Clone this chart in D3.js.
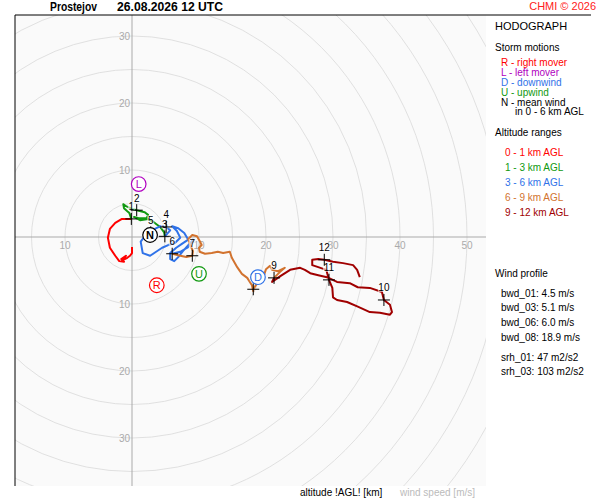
<!DOCTYPE html>
<html>
<head>
<meta charset="utf-8">
<script src="https://cdn.jsdelivr.net/npm/d3@7"></script>
<style>
body{margin:0;background:#fff;}
text{font-family:"Liberation Sans",Arial,sans-serif;}
</style>
</head>
<body>
<script>
// wind speed rings and tick labels [m/s]
var rings = [5,10,15,20,25,30,35,40,45,50,55,60,65];
var uTicks = [-10,10,20,30,40,50];
var vTicks = [30,20,10,-10,-20,-30];

// hodograph per altitude layer, [u, v] in m/s
var layer0_1 = [[0,-1.5],[0,-2.4],[-0.3,-2.8],[-0.7,-3.1],[-1.3,-3.4],[-0.9,-2.8],[-1.6,-3.3],[-1.2,-3.7],[-1.9,-3.6],
    [-2.5,-2.8],[-3.3,-1.6],[-3.6,-0.1],[-3.3,1.2],[-2.5,2.1],[-1.5,2.7],[-0.1,2.7]];
var layer1_3 = [[-0.1,2.7],[-0.4,3.6],[-1.2,4.3],[-1.3,4.9],[-0.9,4.6],[0,4.2],[0.7,4.0],[1.9,3.7],[2.4,3.3],[2.2,2.8],
    [1.0,2.8],[0.3,3.0],[1.2,2.5],[2.4,2.7],[3.4,2.1],[4.2,1.5],[4.8,0.7],[4.9,0.1]];
var layer3_6 = [[4.9,0.1],[5.7,1.0],[5.1,1.5],[4.2,1.6],[3.4,1.2],[2.8,0.7],[1.9,0.1],[1.3,-0.7],[1.6,-2.4],[2.7,-2.8],
    [3.6,-2.2],[4.5,-1.6],[5.4,-1.2],[6.4,-0.9],[7.2,-0.1],[6.7,0.9],[6.0,1.6],[6.9,1.3],[7.8,0.6],[8.4,-0.4],
    [7.5,-1.0],[6.6,-1.6],[5.7,-2.4],[5.7,-3.3],[6.3,-3.6],[6.9,-3.0],[7.6,-2.1],[8.7,-0.9],[9.1,-0.4],[8.4,-1.5],
    [7.2,-2.2],[6.0,-2.5]];
var layer6_9 = [[6.0,-2.5],[7.2,-2.8],[8.1,-3.0],[9.0,-2.8],[9.1,-2.1],[8.7,-1.2],[8.4,-0.3],[9.0,0.3],[9.7,0.1],
    [10.1,-0.6],[10.4,-1.2],[10.0,-1.6],[10.1,-2.2],[10.9,-2.5],[11.9,-2.4],[12.8,-2.2],[13.6,-2.4],[14.6,-2.2],
    [14.9,-3.1],[15.7,-4.5],[16.4,-5.5],[17.2,-6.1],[17.9,-7.2],[18.1,-8.1],[18.1,-7.8],[18.8,-6.7],[19.7,-5.7],
    [20.0,-4.8],[20.6,-4.3],[20.9,-4.9],[21.8,-5.1],[22.8,-4.6],[22.1,-5.2],[21.2,-6.1]];
var layer9_12 = [[21.2,-6.1],[20.9,-6.7],[22.2,-5.8],[23.6,-4.9],[25.1,-4.6],[25.8,-4.9],[26.6,-5.4],[27.8,-5.7],
    [29.1,-6.0],[30.6,-6.7],[32.5,-6.9],[33.7,-7.5],[35.5,-7.6],[37.3,-8.2],[37.6,-9.4],[38.5,-10.1],[38.8,-11.2],
    [38.5,-11.6],[37.0,-11.3],[35.5,-11.2],[33.7,-10.4],[32.1,-9.7],[30.6,-9.4],[30.0,-9.0],[29.9,-7.6],[29.4,-6.4],
    [29.0,-4.9],[27.8,-4.5],[26.9,-4.2],[26.9,-3.4],[27.8,-3.3],[28.7,-3.4],[30.0,-3.7],[31.5,-3.9],[33.0,-4.2],
    [33.6,-4.9],[34.0,-6.0]];

// altitude marks [km] and their wind
var markKm = [1,2,3,4,5,6,7,8,9,10,11,12];
var markU = [-0.1,0.7,4.9,5.1,2.8,6.0,9.0,18.1,21.2,37.6,29.4,28.7];
var markV = [2.7,4.0,0.1,1.5,0.7,-2.5,-2.8,-7.8,-6.1,-9.4,-6.4,-3.4];

// storm motions
var stormId = ["R","L","D","U","N"];
var stormU = [3.7,1.0,18.8,10.0,2.7];
var stormV = [-7.2,7.9,-6.0,-5.5,0.3];

// legend texts
var stormLegend = ["R - right mover","L - left mover","D - downwind","U - upwind","N - mean wind"];
var altLegend = ["0 - 1 km AGL","1 - 3 km AGL","3 - 6 km AGL","6 - 9 km AGL","9 - 12 km AGL"];
var profileLegend = ["bwd_01: 4.5 m/s","bwd_03: 5.1 m/s","bwd_06: 6.0 m/s","bwd_08: 18.9 m/s"];
var srhLegend = ["srh_01: 47 m2/s2","srh_03: 103 m2/s2"];

var layerColors = ["#ff0000","#119911","#2f72e8","#d2732f","#a00000"];
var stormColors = ["#ff0000","#b000c0","#2f72e8","#119911","#000000"];

var w = 600, h = 500;
var svg = d3.select("body").append("svg").attr("width", w).attr("height", h);

// plot frame
var pLeft = 15, pTop = 15, pRight = 486, pBottom = 486;
var x = d3.scaleLinear().domain([0, 50]).range([132, 467]);
var y = d3.scaleLinear().domain([0, 50]).range([237, -98]);
var px = function(d){ return x(d) - x(0); };

svg.append("clipPath").attr("id", "plotClip")
    .append("rect").attr("x", pLeft).attr("y", pTop).attr("width", pRight - pLeft).attr("height", pBottom - pTop);

var plot = svg.append("g").attr("clip-path", "url(#plotClip)");

plot.append("rect").attr("x", pLeft).attr("y", pTop).attr("width", pRight - pLeft).attr("height", pBottom - pTop)
    .attr("fill", "#fafafa");

plot.selectAll(".ring").data(rings).enter().append("circle")
    .attr("cx", x(0)).attr("cy", y(0)).attr("r", px)
    .attr("fill", "none").attr("stroke", "#d9d9d9").attr("stroke-width", 0.8);

// axes
plot.append("line").attr("x1", pLeft).attr("x2", pRight).attr("y1", y(0)).attr("y2", y(0))
    .attr("stroke", "#aaaaaa");
plot.append("line").attr("x1", x(0)).attr("x2", x(0)).attr("y1", pTop).attr("y2", pBottom)
    .attr("stroke", "#aaaaaa");

plot.selectAll(".ulab").data(uTicks).enter().append("text")
    .attr("x", function(d){ return x(d); }).attr("y", y(0) + 12)
    .attr("text-anchor", "middle").attr("font-size", 10).attr("fill", "#aaaaaa")
    .text(function(d){ return Math.abs(d); });
plot.selectAll(".vlab").data(vTicks).enter().append("text")
    .attr("x", x(0) - 2).attr("y", function(d){ return y(d) + 4; })
    .attr("text-anchor", "end").attr("font-size", 10).attr("fill", "#aaaaaa")
    .text(function(d){ return Math.abs(d); });

// hodograph traces
var line = d3.line().x(function(d){ return x(d[0]); }).y(function(d){ return y(d[1]); });
var layers = [layer0_1, layer1_3, layer3_6, layer6_9, layer9_12];
plot.selectAll(".trace").data(layers).enter().append("path")
    .attr("d", line).attr("fill", "none")
    .attr("stroke", function(d, i){ return layerColors[i]; })
    .attr("stroke-width", 2).attr("stroke-linejoin", "round");

// km marks
var marks = plot.selectAll(".mark").data(markKm).enter().append("g")
    .attr("transform", function(d, i){ return "translate(" + x(markU[i]) + "," + y(markV[i]) + ")"; });
marks.append("rect")
    .attr("x", function(d){ return d > 9 ? -6 : -3.5; }).attr("y", -17)
    .attr("width", function(d){ return d > 9 ? 12 : 7; }).attr("height", 9)
    .attr("fill", "#ffffff").attr("opacity", 0.6);
marks.append("path").attr("d", "M-6,0H6M0,-6V6").attr("stroke", "#000").attr("stroke-width", 1);
marks.append("text").attr("y", -8.5).attr("text-anchor", "middle").attr("font-size", 10)
    .attr("fill", "#000").text(function(d){ return d; });

// storm motions
var storms = plot.selectAll(".storm").data(stormId).enter().append("g")
    .attr("transform", function(d, i){ return "translate(" + x(stormU[i]) + "," + y(stormV[i]) + ")"; });
storms.append("circle").attr("r", 7.3).attr("fill", "#ffffff")
    .attr("stroke", function(d, i){ return stormColors[i]; }).attr("stroke-width", 1.2);
storms.append("text").attr("y", 4).attr("text-anchor", "middle").attr("font-size", 11)
    .attr("font-weight", function(d){ return d === "N" ? "bold" : "normal"; })
    .attr("fill", function(d, i){ return stormColors[i]; }).text(function(d){ return d; });

// frame lines
svg.append("line").attr("x1", pLeft).attr("x2", pLeft).attr("y1", pTop).attr("y2", pBottom).attr("stroke", "#000");
svg.append("line").attr("x1", pLeft).attr("x2", 591).attr("y1", pTop).attr("y2", pTop).attr("stroke", "#000");

// title
svg.append("text").attr("x", 50).attr("y", 11).attr("font-size", 12).attr("font-weight", "bold")
    .attr("textLength", 47).attr("lengthAdjust", "spacingAndGlyphs").text("Prostejov");
svg.append("text").attr("x", 117).attr("y", 11).attr("font-size", 12).attr("font-weight", "bold")
    .attr("textLength", 106).attr("lengthAdjust", "spacingAndGlyphs").text("26.08.2026 12 UTC");
svg.append("text").attr("x", 596).attr("y", 10).attr("text-anchor", "end").attr("font-size", 11)
    .attr("fill", "#ff2020").text("CHMI \u00a9 2026");

// legend
var lg = svg.append("g").attr("font-size", 10);
lg.append("text").attr("x", 495).attr("y", 30).attr("font-size", 11).text("HODOGRAPH");
lg.append("text").attr("x", 495).attr("y", 51).text("Storm motions");
lg.selectAll(".sl").data(stormLegend).enter().append("text")
    .attr("x", 501).attr("y", function(d, i){ return 65.5 + i * 10; })
    .attr("fill", function(d, i){ return stormColors[i]; }).text(function(d){ return d; });
lg.append("text").attr("x", 515).attr("y", 115).text("in 0 - 6 km AGL");
lg.append("text").attr("x", 495).attr("y", 136).text("Altitude ranges");
lg.selectAll(".al").data(altLegend).enter().append("text")
    .attr("x", 505).attr("y", function(d, i){ return 155.5 + i * 15; })
    .attr("fill", function(d, i){ return layerColors[i]; }).text(function(d){ return d; });
lg.append("text").attr("x", 495).attr("y", 276.5).text("Wind profile");
lg.selectAll(".pl").data(profileLegend).enter().append("text")
    .attr("x", 501).attr("y", function(d, i){ return 296.5 + i * 14.7; }).text(function(d){ return d; });
lg.selectAll(".sr").data(srhLegend).enter().append("text")
    .attr("x", 501).attr("y", function(d, i){ return 360.5 + i * 14; }).text(function(d){ return d; });

// bottom captions
svg.append("text").attr("x", 300).attr("y", 495.5).attr("font-size", 10).text("altitude !AGL! [km]");
svg.append("text").attr("x", 400).attr("y", 495.5).attr("font-size", 10).attr("fill", "#bbbbbb").text("wind speed [m/s]");
</script>
</body>
</html>
